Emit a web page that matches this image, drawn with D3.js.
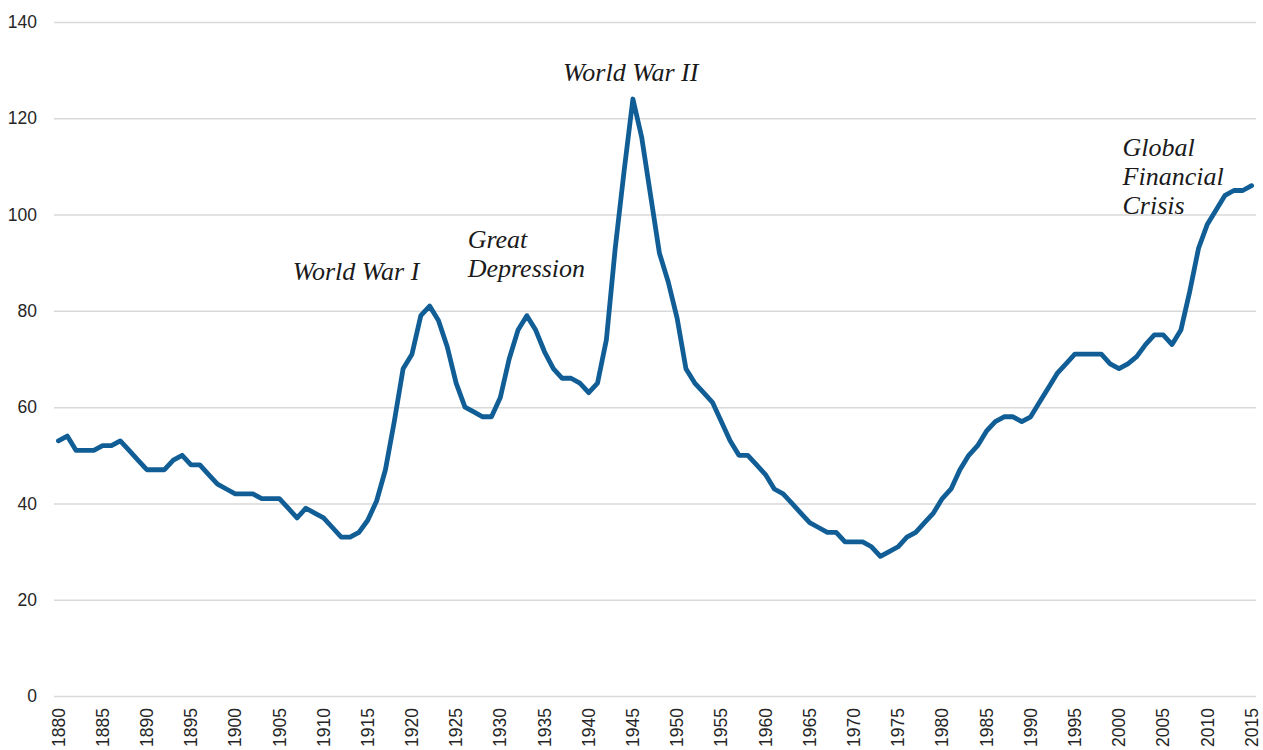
<!DOCTYPE html>
<html>
<head>
<meta charset="utf-8">
<script src="https://cdn.jsdelivr.net/npm/d3@7"></script>
<style>
  body { margin: 0; background: #fff; }
  .annot { font-family: "Liberation Serif", "Times New Roman", serif; font-style: italic; font-size: 26px; fill: #1a1a1a; }
</style>
</head>
<body>
<div id="chart"></div>
<script>

// data: debt-to-GDP style series, 1880-2015
var years = d3.range(1880, 2016);
var values = [
  53, 54, 51, 51, 51, 52, 52, 53, 51, 49,   // 1880-1889
  47, 47, 47, 49, 50, 48, 48, 46, 44, 43,   // 1890-1899
  42, 42, 42, 41, 41, 41, 39, 37, 39, 38,   // 1900-1909
  37, 35, 33, 33, 34, 36.5, 40.5, 47, 57, 68, // 1910-1919
  71, 79, 81, 78, 72.5, 65, 60, 59, 58, 58, // 1920-1929
  62, 70, 76, 79, 76, 71.5, 68, 66, 66, 65, // 1930-1939
  63, 65, 74, 93, 109, 124, 116, 104, 92, 86, // 1940-1949
  78.5, 68, 65, 63, 61, 57, 53, 50, 50, 48, // 1950-1959
  46, 43, 42, 40, 38, 36, 35, 34, 34, 32,   // 1960-1969
  32, 32, 31, 29, 30, 31, 33, 34, 36, 38,   // 1970-1979
  41, 43, 47, 50, 52, 55, 57, 58, 58, 57,   // 1980-1989
  58, 61, 64, 67, 69, 71, 71, 71, 71, 69,   // 1990-1999
  68, 69, 70.5, 73, 75, 75, 73, 76, 84, 93, // 2000-2009
  98, 101, 104, 105, 105, 106               // 2010-2015
];
var yTicks = [0, 20, 40, 60, 80, 100, 120, 140];
var xTickLabels = d3.range(1880, 2016, 5);

// annotation anchors (year, value of first baseline)
var notes = [
  {year: 1906.5, value: 86.4, lines: ["World War I"]},
  {year: 1926.3, value: 93.1, lines: ["Great", "Depression"]},
  {year: 1937.1, value: 127.7, lines: ["World War II"]},
  {year: 2000.4, value: 112.2, lines: ["Global", "Financial", "Crisis"]}
];

var width = 1263, height = 750;
var plot = {left: 54, right: 1256, top: 22, bottom: 696};

var svg = d3.select("#chart")
  .append("svg")
    .attr("width", width)
    .attr("height", height);

// scales
var x = d3.scaleBand()
  .domain(years)
  .range([plot.left, plot.right]);
var xc = function(d) { return x(d) + x.bandwidth() / 2; };
// continuous version of the same axis, for annotation placement
var xl = d3.scaleLinear()
  .domain([years[0], years[years.length - 1]])
  .range([xc(years[0]), xc(years[years.length - 1])]);

var y = d3.scaleLinear()
  .domain([0, 140])
  .range([plot.bottom, plot.top]);

// Y axis with gridlines
var yAxis = svg.append("g")
  .attr("transform", "translate(" + plot.left + ",0)")
  .call(d3.axisLeft(y).tickValues(yTicks).tickSize(-(plot.right - plot.left)).tickPadding(17));
yAxis.select(".domain").remove();
yAxis.selectAll("line")
  .attr("stroke", "#d9d9d9")
  .attr("stroke-width", 1.5);
yAxis.selectAll("text")
  .style("font-family", "Liberation Sans, Arial, sans-serif")
  .style("font-size", "17.5px")
  .attr("fill", "#262626");

// X axis (rotated year labels)
var xAxis = svg.append("g")
  .attr("transform", "translate(0," + plot.bottom + ")")
  .call(d3.axisBottom(x).tickValues(xTickLabels).tickSize(0));
xAxis.select(".domain").remove();
xAxis.selectAll("text")
  .attr("transform", "rotate(-90)")
  .attr("text-anchor", "end")
  .attr("x", -12)
  .attr("y", 0)
  .attr("dy", "0.35em")
  .style("font-family", "Liberation Sans, Arial, sans-serif")
  .style("font-size", "17.5px")
  .attr("fill", "#262626");

// the line
var line = d3.line()
  .x(function(d, i) { return xc(years[i]); })
  .y(function(d) { return y(d); });

svg.append("path")
  .datum(values)
  .attr("fill", "none")
  .attr("stroke", "#115e96")
  .attr("stroke-width", 4.8)
  .attr("stroke-linejoin", "round")
  .attr("stroke-linecap", "round")
  .attr("d", line);

// annotations
notes.forEach(function(n) {
  var t = svg.append("text")
    .attr("class", "annot")
    .attr("x", xl(n.year))
    .attr("y", y(n.value));
  n.lines.forEach(function(s, i) {
    t.append("tspan")
      .attr("x", xl(n.year))
      .attr("dy", i === 0 ? 0 : 29)
      .text(s);
  });
});

</script>
</body>
</html>
